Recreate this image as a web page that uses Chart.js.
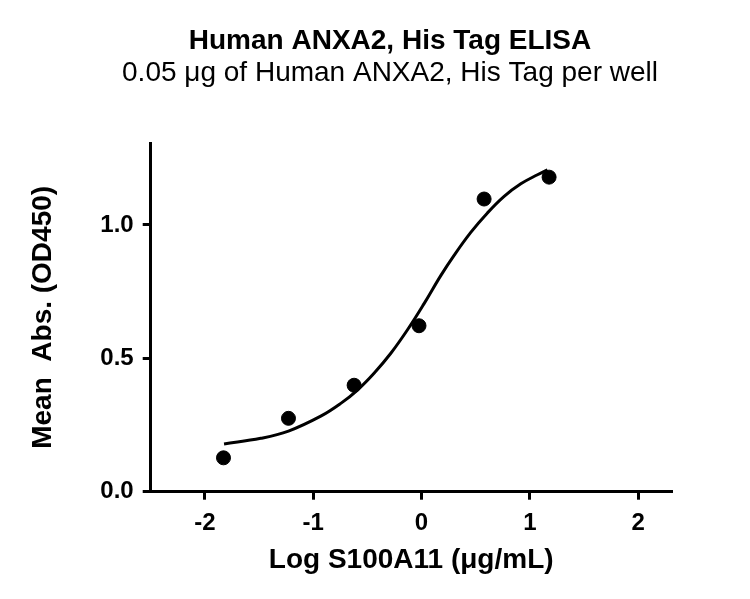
<!DOCTYPE html>
<html>
<head>
<meta charset="utf-8">
<script src="https://cdn.jsdelivr.net/npm/chart.js@4"></script>
<style>
html,body{margin:0;padding:0;background:#fff;}
#wrap{width:750px;height:599px;}
</style>
</head>
<body>
<div id="wrap"><canvas id="c" width="750" height="599"></canvas></div>
<script>
// Measured data points (log concentration vs mean absorbance)
const logConc = [-1.828, -1.228, -0.622, -0.023, 0.578, 1.178];
const meanAbs = [0.127, 0.275, 0.399, 0.622, 1.097, 1.179];
// Fitted curve
const curveX = [-1.823, -1.484, -1.228, -0.930, -0.745, -0.591, -0.438, -0.283, -0.129, 0.024, 0.178, 0.301, 0.455, 0.609, 0.763, 0.917, 1.071, 1.163];
const curveY = [0.179, 0.200, 0.227, 0.283, 0.331, 0.381, 0.444, 0.519, 0.607, 0.705, 0.810, 0.886, 0.972, 1.045, 1.107, 1.154, 1.188, 1.206];
// Tick labels
const xTicks = [-2, -1, 0, 1, 2];
const yTicks = [0.0, 0.5, 1.0];

const titleText = 'Human ANXA2, His Tag ELISA';
const subtitleText = '0.05 μg of Human ANXA2, His Tag per well';
const xTitle = 'Log S100A11 (μg/mL)';
const yTitle = 'Mean  Abs. (OD450)';

const FONT = '"Liberation Sans", Arial, Helvetica, sans-serif';

const pts = logConc.map((x, i) => ({x: x, y: meanAbs[i]}));
const curve = curveX.map((x, i) => ({x: x, y: curveY[i]}));

new Chart(document.getElementById('c'), {
  type: 'scatter',
  data: {
    datasets: [
      {
        label: 'Fit',
        data: curve,
        showLine: true,
        borderColor: '#000',
        borderWidth: 3,
        pointRadius: 0,
        tension: 0.4,
        fill: false,
        order: 2
      },
      {
        label: 'Data',
        data: pts,
        showLine: false,
        backgroundColor: '#000',
        borderColor: '#000',
        pointRadius: 7,
        pointHoverRadius: 7,
        order: 1
      }
    ]
  },
  options: {
    responsive: false,
    animation: false,
    devicePixelRatio: 1,
    layout: {padding: {left: 30, right: 0, top: 0, bottom: 0}},
    plugins: {
      legend: {display: false},
      tooltip: {enabled: false},
      title: {
        display: true,
        text: titleText,
        color: '#000',
        font: {family: FONT, size: 28, weight: 'bold', lineHeight: 1.0},
        padding: {top: 27, bottom: 0}
      },
      subtitle: {
        display: true,
        text: subtitleText,
        color: '#000',
        font: {family: FONT, size: 28, weight: 'normal', lineHeight: 1.0},
        padding: {top: 4.5, bottom: 55.5}
      }
    },
    scales: {
      x: {
        type: 'linear',
        min: -2.5,
        max: 2.31,
        afterBuildTicks: (s) => { s.ticks = xTicks.map(v => ({value: v})); },
        afterFit: (s) => { s.height = 599 - 491.7; },
        ticks: {
          includeBounds: false,
          color: '#000',
          padding: 9,
          font: {family: FONT, size: 24, weight: 'bold'},
          callback: (v) => String(v)
        },
        grid: {display: true, drawOnChartArea: false, drawTicks: true, tickLength: 8, color: '#000', lineWidth: 3},
        border: {display: true, color: '#000', width: 3},
        title: {
          display: true,
          text: xTitle,
          color: '#000',
          font: {family: FONT, size: 28, weight: 'bold', lineHeight: 1.2},
          padding: {top: 0, bottom: 22.2}
        }
      },
      y: {
        type: 'linear',
        min: 0,
        max: 1.307,
        afterBuildTicks: (s) => { s.ticks = yTicks.map(v => ({value: v})); },
        afterFit: (s) => { s.width = 150.7 - 30; },
        ticks: {
          includeBounds: false,
          color: '#000',
          padding: 9,
          font: {family: FONT, size: 24, weight: 'bold'},
          callback: (v) => Number(v).toFixed(1)
        },
        grid: {display: true, drawOnChartArea: false, drawTicks: true, tickLength: 8, color: '#000', lineWidth: 3},
        border: {display: true, color: '#000', width: 3},
        title: {
          display: true,
          text: yTitle,
          color: '#000',
          font: {family: FONT, size: 28, weight: 'bold', lineHeight: 0.95},
          padding: {top: 0, bottom: 0}
        }
      },
      yRightSpace: {
        type: 'linear',
        position: 'right',
        display: true,
        min: 0,
        max: 1.307,
        afterFit: (s) => { s.width = 750 - 671.7; },
        ticks: {display: false},
        grid: {display: false},
        border: {display: false},
        title: {display: false}
      }
    }
  }
});
</script>
</body>
</html>
